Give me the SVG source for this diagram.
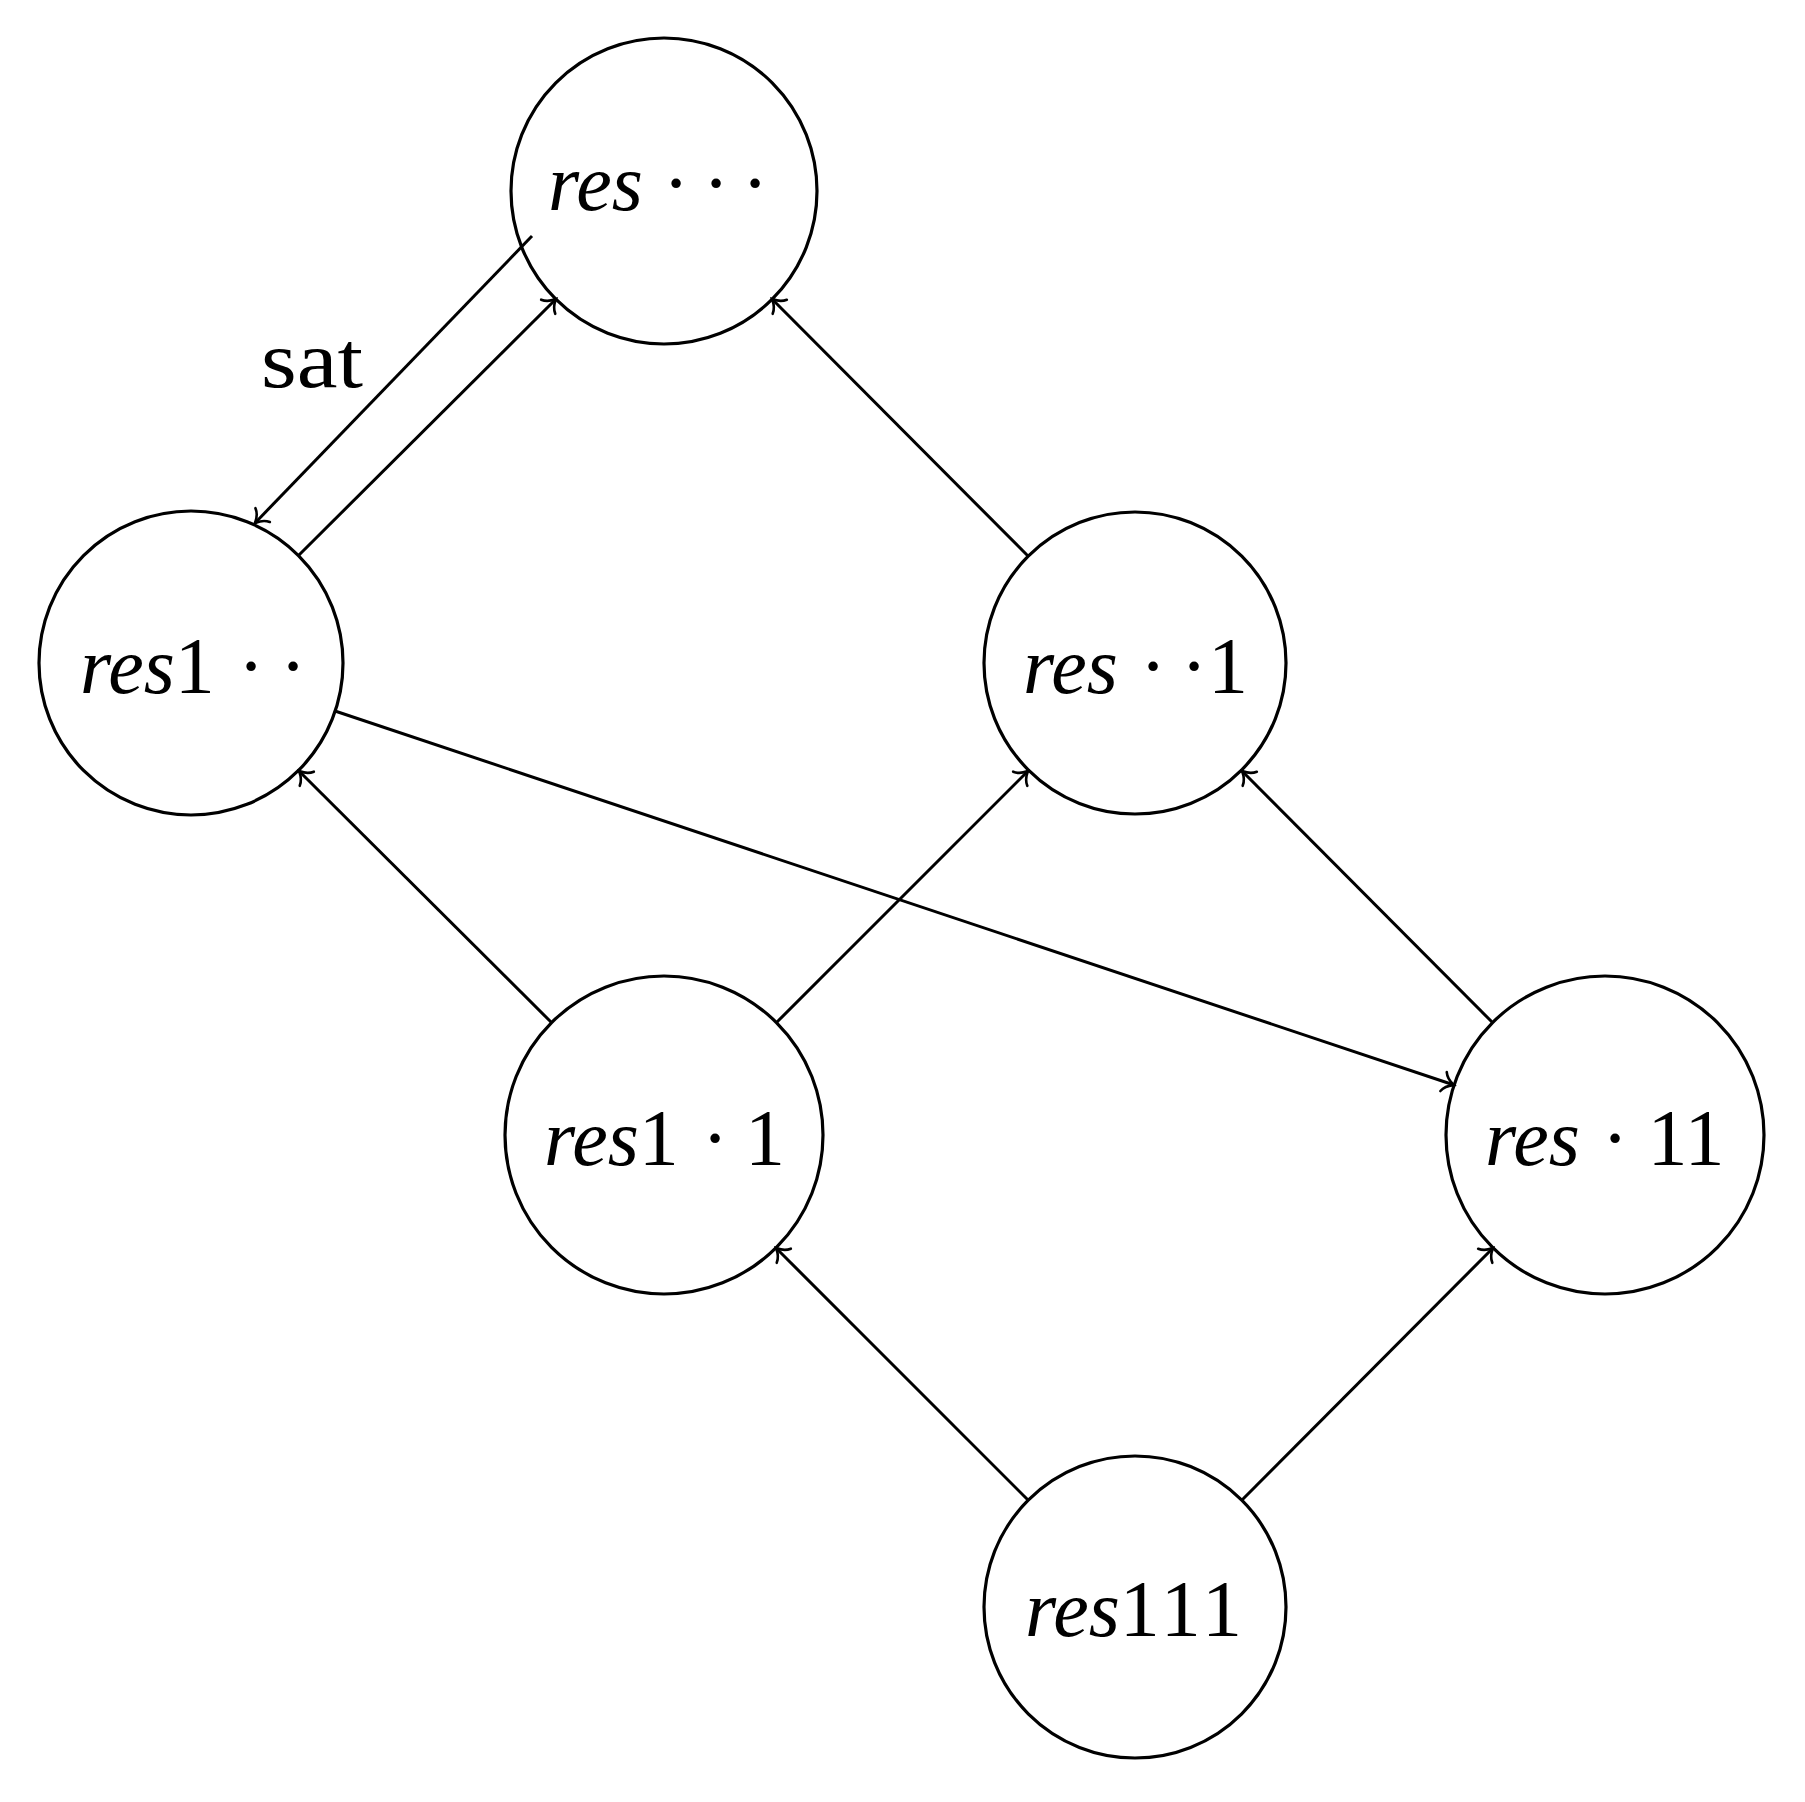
<svg xmlns="http://www.w3.org/2000/svg" width="1805" height="1802" viewBox="0 0 1805 1802">
<style>
.node circle{fill:none;stroke:#000;stroke-width:3.2}
.lbl{font-family:"Liberation Serif","Times New Roman",serif;font-size:80px;fill:#000}
.it{font-style:italic}
.dot{text-anchor:middle}
.edge{fill:none;stroke:#000;stroke-width:3;marker-end:url(#to)}
</style>
<defs>
<marker id="to" markerUnits="userSpaceOnUse" markerWidth="30" markerHeight="30" refX="0" refY="0" orient="auto" viewBox="-15 -15 30 30" overflow="visible">
<path d="M-11,-10 C-8,-3 -2,-1 0,0 C-2,1 -8,3 -11,10" fill="none" stroke="#000" stroke-width="2.6" stroke-linecap="round"/>
</marker>
</defs>
<rect width="1805" height="1802" fill="#fff"/>
<g id="edges">
<path class="edge" d="M532,236 L255,523"/>
<path class="edge" d="M298,556 L556,299"/>
<path class="edge" d="M1028,556 L772,299"/>
<path class="edge" d="M552,1023 L299,771"/>
<path class="edge" d="M776,1023 L1028,771"/>
<path class="edge" d="M1493,1023 L1242,771"/>
<path class="edge" d="M335,711 L1454,1085"/>
<path class="edge" d="M1028,1500 L776,1248"/>
<path class="edge" d="M1242,1500 L1493,1248"/>
<text class="lbl" x="261" y="387" font-size="90" textLength="102" lengthAdjust="spacingAndGlyphs">sat</text>
</g>
<g id="n_res_dots" class="node">
<circle cx="664" cy="191" r="153"/>
<text class="lbl" y="210"><tspan class="it" x="548">res</tspan><tspan class="dot" x="676">·</tspan><tspan class="dot" x="716">·</tspan><tspan class="dot" x="755">·</tspan></text>
</g>
<g id="n_res1" class="node">
<circle cx="191" cy="663" r="152"/>
<text class="lbl" y="693"><tspan class="it" x="80">res</tspan><tspan>1</tspan><tspan class="dot" x="251">·</tspan><tspan class="dot" x="293">·</tspan></text>
</g>
<g id="n_res__1" class="node">
<circle cx="1135" cy="663" r="151"/>
<text class="lbl" y="693"><tspan class="it" x="1023">res</tspan><tspan class="dot" x="1153">·</tspan><tspan class="dot" x="1194">·</tspan><tspan class="dot" x="1228">1</tspan></text>
</g>
<g id="n_res1_1" class="node">
<circle cx="664" cy="1135" r="159"/>
<text class="lbl" y="1165"><tspan class="it" x="544">res</tspan><tspan>1</tspan><tspan class="dot" x="715">·</tspan><tspan class="dot" x="765">1</tspan></text>
</g>
<g id="n_res_11" class="node">
<circle cx="1605" cy="1135" r="159"/>
<text class="lbl" y="1165"><tspan class="it" x="1485">res</tspan><tspan class="dot" x="1615">·</tspan><tspan class="dot" x="1686">11</tspan></text>
</g>
<g id="n_res111" class="node">
<circle cx="1135" cy="1607" r="151"/>
<text class="lbl" y="1636"><tspan class="it" x="1025">res</tspan><tspan letter-spacing="4">111</tspan></text>
</g>
</svg>
